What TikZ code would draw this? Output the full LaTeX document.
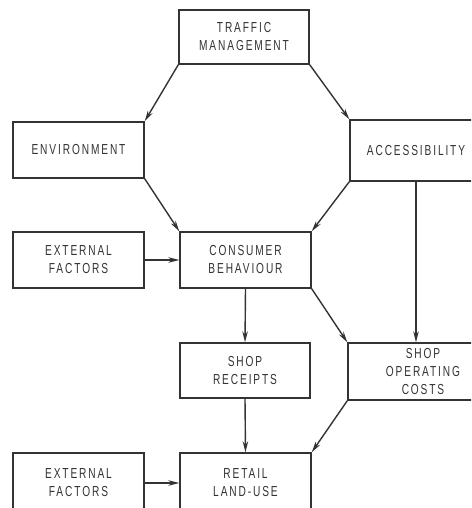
\documentclass[tikz,border=0pt]{standalone}
\usepackage{fontspec}
\setmainfont{Liberation Sans}[FakeStretch=0.7, LetterSpace=13]
\usetikzlibrary{arrows.meta}
\definecolor{ink}{HTML}{333333}
\tikzset{
  box/.style={draw=ink, line width=1.4pt, rectangle, inner sep=0pt, align=center,
    text=ink, font=\fontsize{14.5}{18}\selectfont},
  arr/.style={draw=ink, line width=1.4pt, -{Stealth[length=11pt,width=5.5pt]}},
}
\begin{document}
\begin{tikzpicture}[x=1pt,y=-1pt]
\useasboundingbox (0,0) rectangle (471,508);
\clip (0,0) rectangle (471,508);
\node[box, minimum width=130pt, minimum height=54pt] (TM) at (244,37) {TRAFFIC\\MANAGEMENT};
\node[box, minimum width=131pt, minimum height=56pt] (ENV) at (78.5,150) {ENVIRONMENT};
\node[box, minimum width=132pt, minimum height=61pt] (ACC) at (416,150.5) {ACCESSIBILITY};
\node[box, minimum width=131pt, minimum height=56pt] (EF1) at (78.5,260) {EXTERNAL\\FACTORS};
\node[box, minimum width=131pt, minimum height=56pt] (CB) at (245.5,260) {CONSUMER\\BEHAVIOUR};
\node[box, minimum width=130pt, minimum height=55pt] (SR) at (245,370.5) {SHOP\\RECEIPTS};
\node[box, minimum width=150pt, minimum height=57pt] (SOC) at (423,371.5) {SHOP\\OPERATING\\COSTS};
\node[box, minimum width=131pt, minimum height=60pt] (EF2) at (78.5,483) {EXTERNAL\\FACTORS};
\node[box, minimum width=131pt, minimum height=60pt] (RLU) at (245.5,483) {RETAIL\\LAND-USE};
\draw[arr] (TM.south west) -- (ENV.north east);
\draw[arr] (TM.south east) -- (ACC.north west);
\draw[arr] (ENV.south east) -- (CB.north west);
\draw[arr] (ACC.south west) -- (CB.north east);
\draw[arr] (EF1.east) -- (CB.west);
\draw[arr] (ACC.south) -- (ACC.south |- SOC.north);
\draw[arr] (CB.south) -- (SR.north);
\draw[arr] (CB.south east) -- (SOC.north west);
\draw[arr] (SR.south) -- (RLU.north);
\draw[arr] (SOC.south west) -- (RLU.north east);
\draw[arr] (EF2.east) -- (RLU.west);
\end{tikzpicture}
\end{document}
